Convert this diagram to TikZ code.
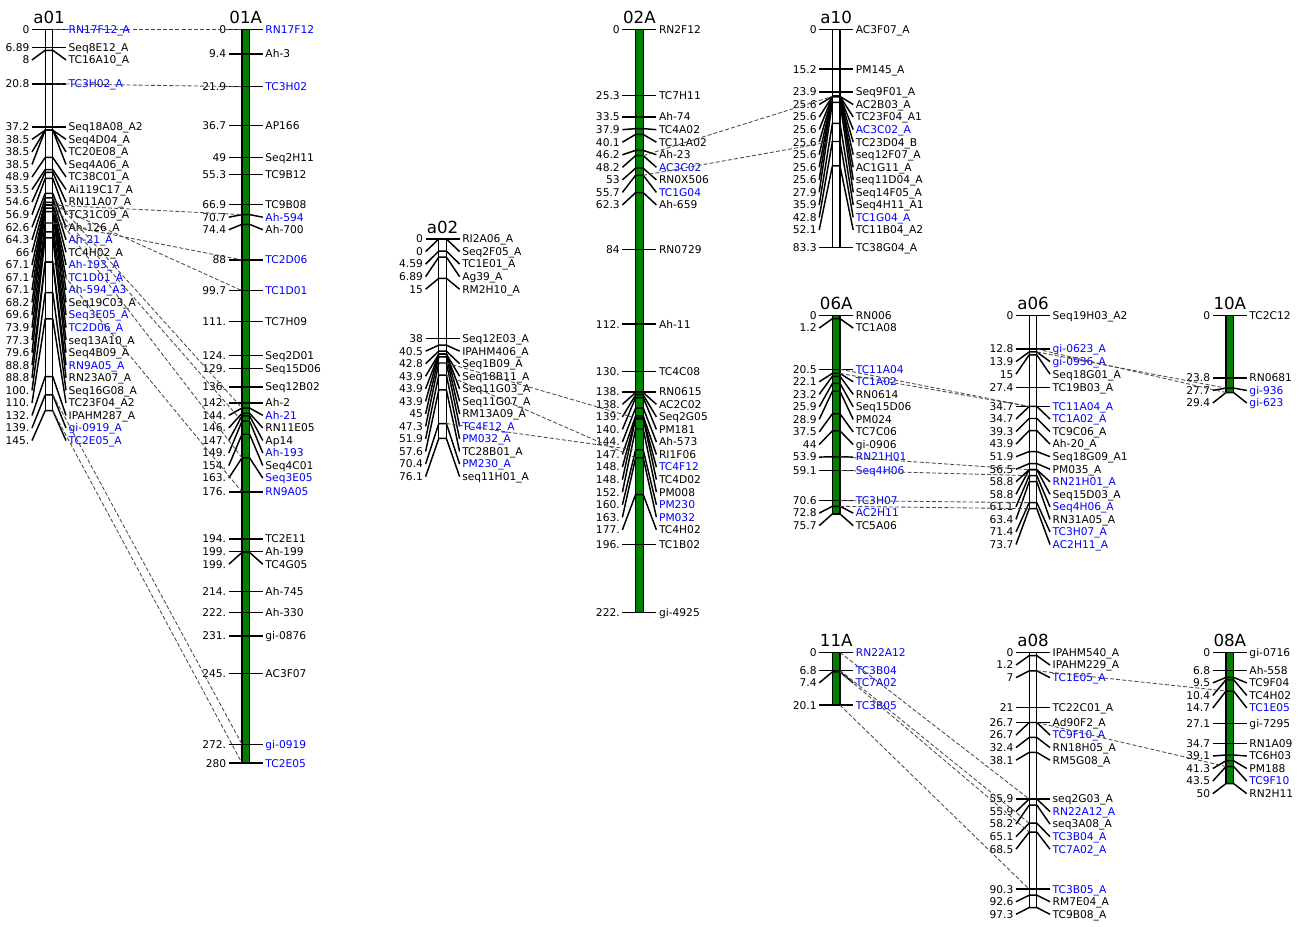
\documentclass[tikz,border=0pt]{standalone}
\usepackage{fontspec}
\setmainfont{DejaVu Sans}
\definecolor{b}{RGB}{0,0,255}
\colorlet{k}{black}
\definecolor{chrgreen}{RGB}{0,128,0}
\catcode`\_=12
\tikzset{
  chrbar/.style={draw=black, line width=0.9pt},
  mtick/.style={line width=1.1pt, line join=round},
  numlab/.style={font=\fontsize{8}{9}\selectfont, inner sep=1.8pt, text height=5.8pt, text depth=0pt, anchor=east},
  mklab/.style={font=\fontsize{8}{9}\selectfont, inner sep=1.8pt, text height=5.8pt, text depth=0pt, anchor=west},
  chrtitle/.style={font=\fontsize{12.5}{14}\selectfont, anchor=base, inner sep=0pt},
  conn/.style={draw=black!70, line width=0.65pt, dash pattern=on 3pt off 1.6pt}
}
\newcommand\chrom[7]{%
  \draw[chrbar, fill=#4] (#2-3.8,#3) rectangle (#2+3.8,{#3+#5*2.621});
  \node[chrtitle] (#1) at (#2,#3-5.8) {#6};
  \xdef\prevly{-1000}%
  \foreach \c/\d/\n/\col in {#7}{%
    \pgfmathsetmacro\my{#3+\c*2.621}%
    \pgfmathsetmacro\ly{max(\my,\prevly+12.55)}%
    \xdef\prevly{\ly}%
    \draw[mtick] (#2-17,\ly) -- (#2-3.8,\my) -- (#2+3.8,\my) -- (#2+17,\ly);
    \node[numlab] (#1-\n-num) at (#2-17,\ly) {\d};
    \node[mklab, text=\col] (#1-\n-lab) at (#2+17,\ly) {\n};
    \coordinate (#1-\n-L) at (#2-3.8,\my);
    \coordinate (#1-\n-R) at (#2+3.8,\my);
  }}
\begin{document}
\begin{tikzpicture}[x=0.75pt,y=-0.75pt]
\useasboundingbox (0,0) rectangle (1300,926);

\chrom{a01}{49}{29.3}{white}{145.5}{a01}{0/0/RN17F12_A/b,6.89/6.89/Seq8E12_A/k,8/8/TC16A10_A/k,20.8/20.8/TC3H02_A/b,37.2/37.2/Seq18A08_A2/k,38.5/38.5/Seq4D04_A/k,38.5/38.5/TC20E08_A/k,38.5/38.5/Seq4A06_A/k,48.9/48.9/TC38C01_A/k,53.5/53.5/Ai119C17_A/k,54.6/54.6/RN11A07_A/k,56.9/56.9/TC31C09_A/k,62.6/62.6/Ah-126_A/k,64.3/64.3/Ah-21_A/b,66/66/TC4H02_A/k,67.1/67.1/Ah-193_A/b,67.1/67.1/TC1D01_A/b,67.1/67.1/Ah-594_A3/b,68.2/68.2/Seq19C03_A/k,69.6/69.6/Seq3E05_A/b,73.9/73.9/TC2D06_A/b,77.3/77.3/seq13A10_A/k,79.6/79.6/Seq4B09_A/k,88.8/88.8/RN9A05_A/b,88.8/88.8/RN23A07_A/k,100.5/100./Seq16G08_A/k,110.5/110./TC23F04_A2/k,132.5/132./IPAHM287_A/k,139.5/139./gi-0919_A/b,145.5/145./TC2E05_A/b}

\chrom{01A}{245.8}{29.3}{chrgreen}{280}{01A}{0/0/RN17F12/b,9.4/9.4/Ah-3/k,21.9/21.9/TC3H02/b,36.7/36.7/AP166/k,49/49/Seq2H11/k,55.3/55.3/TC9B12/k,66.9/66.9/TC9B08/k,70.7/70.7/Ah-594/b,74.4/74.4/Ah-700/k,88/88/TC2D06/b,99.7/99.7/TC1D01/b,111.5/111./TC7H09/k,124.5/124./Seq2D01/k,129.5/129./Seq15D06/k,136.5/136./Seq12B02/k,142.5/142./Ah-2/k,144.5/144./Ah-21/b,146.5/146./RN11E05/k,147.5/147./Ap14/k,149.5/149./Ah-193/b,154.5/154./Seq4C01/k,163.5/163./Seq3E05/b,176.5/176./RN9A05/b,194.5/194./TC2E11/k,199.3/199./Ah-199/k,199.6/199./TC4G05/k,214.5/214./Ah-745/k,222.5/222./Ah-330/k,231.5/231./gi-0876/k,245.8/245./AC3F07/k,272.8/272./gi-0919/b,280/280/TC2E05/b}

\chrom{a02}{442.6}{239}{white}{76.1}{a02}{0/0/RI2A06_A/k,0/0/Seq2F05_A/k,4.59/4.59/TC1E01_A/k,6.89/6.89/Ag39_A/k,15/15/RM2H10_A/k,38/38/Seq12E03_A/k,40.5/40.5/IPAHM406_A/k,42.8/42.8/Seq1B09_A/k,43.9/43.9/Seq18B11_A/k,43.9/43.9/Seq11G03_A/k,43.9/43.9/Seq11G07_A/k,45/45/RM13A09_A/k,47.3/47.3/TC4F12_A/b,51.9/51.9/PM032_A/b,57.6/57.6/TC28B01_A/k,70.4/70.4/PM230_A/b,76.1/76.1/seq11H01_A/k}

\chrom{02A}{639.4}{29.3}{chrgreen}{222.5}{02A}{0/0/RN2F12/k,25.3/25.3/TC7H11/k,33.5/33.5/Ah-74/k,37.9/37.9/TC4A02/k,40.1/40.1/TC11A02/k,46.2/46.2/Ah-23/k,48.2/48.2/AC3C02/b,53/53/RN0X506/k,55.7/55.7/TC1G04/b,62.3/62.3/Ah-659/k,84/84/RN0729/k,112.5/112./Ah-11/k,130.5/130./TC4C08/k,138.3/138./RN0615/k,138.6/138./AC2C02/k,139.5/139./Seq2G05/k,140.5/140./PM181/k,144.5/144./Ah-573/k,147.5/147./RI1F06/k,148.3/148./TC4F12/b,148.6/148./TC4D02/k,152.5/152./PM008/k,160.5/160./PM230/b,163.5/163./PM032/b,177.5/177./TC4H02/k,196.5/196./TC1B02/k,222.5/222./gi-4925/k}

\chrom{a10}{836.2}{29.3}{white}{83.3}{a10}{0/0/AC3F07_A/k,15.2/15.2/PM145_A/k,23.9/23.9/Seq9F01_A/k,25.6/25.6/AC2B03_A/k,25.6/25.6/TC23F04_A1/k,25.6/25.6/AC3C02_A/b,25.6/25.6/TC23D04_B/k,25.6/25.6/seq12F07_A/k,25.6/25.6/AC1G11_A/k,25.6/25.6/seq11D04_A/k,27.9/27.9/Seq14F05_A/k,35.9/35.9/Seq4H11_A1/k,42.8/42.8/TC1G04_A/b,52.1/52.1/TC11B04_A2/k,83.3/83.3/TC38G04_A/k}

\chrom{06A}{836.2}{315.5}{chrgreen}{75.7}{06A}{0/0/RN006/k,1.2/1.2/TC1A08/k,20.5/20.5/TC11A04/b,22.1/22.1/TC1A02/b,23.2/23.2/RN0614/k,25.9/25.9/Seq15D06/k,28.9/28.9/PM024/k,37.5/37.5/TC7C06/k,44/44/gi-0906/k,53.9/53.9/RN21H01/b,59.1/59.1/Seq4H06/b,70.6/70.6/TC3H07/b,72.8/72.8/AC2H11/b,75.7/75.7/TC5A06/k}

\chrom{a06}{1033}{315.5}{white}{73.7}{a06}{0/0/Seq19H03_A2/k,12.8/12.8/gi-0623_A/b,13.9/13.9/gi-0936_A/b,15/15/Seq18G01_A/k,27.4/27.4/TC19B03_A/k,34.7/34.7/TC11A04_A/b,34.7/34.7/TC1A02_A/b,39.3/39.3/TC9C06_A/k,43.9/43.9/Ah-20_A/k,51.9/51.9/Seq18G09_A1/k,56.5/56.5/PM035_A/k,58.8/58.8/RN21H01_A/b,58.8/58.8/Seq15D03_A/k,61.1/61.1/Seq4H06_A/b,63.4/63.4/RN31A05_A/k,71.4/71.4/TC3H07_A/b,73.7/73.7/AC2H11_A/b}

\chrom{10A}{1229.8}{315.5}{chrgreen}{29.4}{10A}{0/0/TC2C12/k,23.8/23.8/RN0681/k,27.7/27.7/gi-936/b,29.4/29.4/gi-623/b}

\chrom{11A}{836.2}{652.5}{chrgreen}{20.1}{11A}{0/0/RN22A12/b,6.8/6.8/TC3B04/b,7.4/7.4/TC7A02/b,20.1/20.1/TC3B05/b}

\chrom{a08}{1033}{652.5}{white}{97.3}{a08}{0/0/IPAHM540_A/k,1.2/1.2/IPAHM229_A/k,7/7/TC1E05_A/b,21/21/TC22C01_A/k,26.7/26.7/Ad90F2_A/k,26.7/26.7/TC9F10_A/b,32.4/32.4/RN18H05_A/k,38.1/38.1/RM5G08_A/k,55.9/55.9/seq2G03_A/k,55.9/55.9/RN22A12_A/b,58.2/58.2/seq3A08_A/k,65.1/65.1/TC3B04_A/b,68.5/68.5/TC7A02_A/b,90.3/90.3/TC3B05_A/b,92.6/92.6/RM7E04_A/k,97.3/97.3/TC9B08_A/k}

\chrom{08A}{1229.8}{652.5}{chrgreen}{50}{08A}{0/0/gi-0716/k,6.8/6.8/Ah-558/k,9.5/9.5/TC9F04/k,10.4/10.4/TC4H02/k,14.7/14.7/TC1E05/b,27.1/27.1/gi-7295/k,34.7/34.7/RN1A09/k,39.1/39.1/TC6H03/k,41.3/41.3/PM188/k,43.5/43.5/TC9F10/b,50/50/RN2H11/k}

% connectors
\foreach \a/\bb in {RN17F12_A/RN17F12,TC3H02_A/TC3H02,Ah-594_A3/Ah-594,TC2D06_A/TC2D06,TC1D01_A/TC1D01,Ah-21_A/Ah-21,Ah-193_A/Ah-193,Seq3E05_A/Seq3E05,RN9A05_A/RN9A05,gi-0919_A/gi-0919,TC2E05_A/TC2E05}
  \draw[conn] (a01-\a-R) -- (01A-\bb-L);
\foreach \a/\bb in {TC4F12_A/TC4F12,PM032_A/PM032,PM230_A/PM230}
  \draw[conn] (a02-\a-R) -- (02A-\bb-L);
\foreach \a/\bb in {AC3C02/AC3C02_A,TC1G04/TC1G04_A}
  \draw[conn] (02A-\a-R) -- (a10-\bb-L);
\foreach \a/\bb in {TC11A04/TC11A04_A,TC1A02/TC1A02_A,RN21H01/RN21H01_A,Seq4H06/Seq4H06_A,TC3H07/TC3H07_A,AC2H11/AC2H11_A}
  \draw[conn] (06A-\a-R) -- (a06-\bb-L);
\foreach \a/\bb in {gi-0623_A/gi-623,gi-0936_A/gi-936}
  \draw[conn] (a06-\a-R) -- (10A-\bb-L);
\foreach \a/\bb in {RN22A12/RN22A12_A,TC3B04/TC3B04_A,TC7A02/TC7A02_A,TC3B05/TC3B05_A}
  \draw[conn] (11A-\a-R) -- (a08-\bb-L);
\foreach \a/\bb in {TC1E05_A/TC1E05,TC9F10_A/TC9F10}
  \draw[conn] (a08-\a-R) -- (08A-\bb-L);
\end{tikzpicture}
\end{document}
